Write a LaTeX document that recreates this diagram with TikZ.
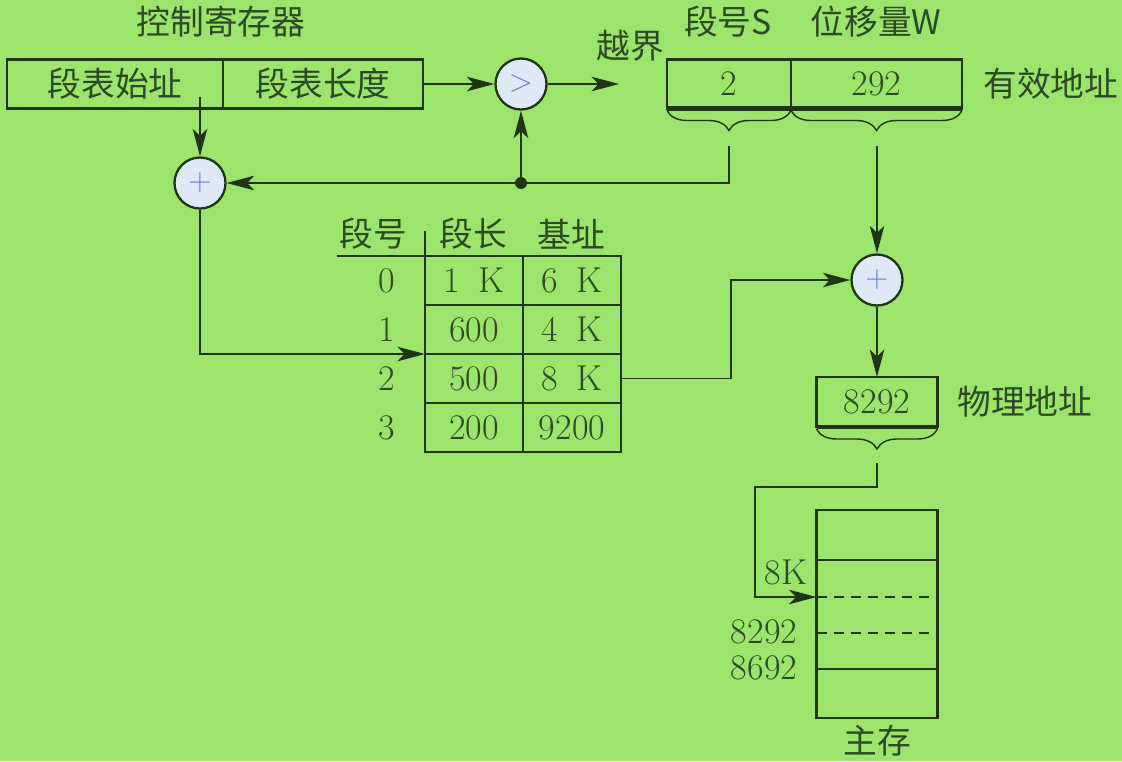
\documentclass[tikz,border=0pt]{standalone}
\usepackage{fontspec}
\usepackage{xcolor}
\usepackage{tikz}
\usetikzlibrary{arrows.meta,positioning,decorations.pathreplacing}
\newfontfamily\cjk{Noto Sans CJK SC}
\definecolor{boardgreen}{HTML}{9CE46C}
\definecolor{inkdark}{HTML}{1F3514}
\definecolor{textdark}{HTML}{2C4A24}
\definecolor{sumfill}{HTML}{DDEAF6}
\definecolor{sumblue}{HTML}{6A80C8}
\newcommand{\zh}{\cjk\fontsize{19.2}{21}\selectfont}

\begin{document}
\begin{tikzpicture}[x=0.2mm,y=-0.2mm,>={Stealth[length=5.5mm,width=2.9mm,inset=1.4mm]},font=\fontsize{20.5}{22}\selectfont]

\tikzset{
box/.style={
    draw=inkdark,
    line width=1.5pt,
    outer sep=0pt,
    inner sep=0pt,
    minimum height=9.8mm,
    text=textdark
},
sum/.style={circle,draw=inkdark,line width=1.3pt,fill=sumfill,minimum size=10.2mm,inner sep=0pt,text=sumblue},
lbl/.style={text=textdark,inner sep=0pt,font=\zh},
num/.style={text=textdark,inner sep=0pt},
a/.style={->,draw=inkdark,line width=0.9pt},
brc/.style={draw=inkdark,line width=0.8pt,decorate,decoration={brace,mirror,amplitude=4mm,raise=0.4mm}},
jdot/.style={circle,fill=inkdark,minimum size=2.4mm,inner sep=0pt},
dashline/.style={dash pattern=on 2mm off 1.4mm}
}

\fill[boardgreen] (0,0) rectangle (1122,761);

% control register
\node[lbl] (ctrltitle) at (221,22) {控制寄存器};
\node[box,minimum width=43.2mm,font=\zh] (stab) at (115,84) {段表始址};
\node[box,minimum width=40mm,font=\zh,right=0pt of stab] (slen) {段表长度};
\node[sum,font=\fontsize{18}{20}\selectfont] (cmp) at (521,84) {>};
\node[sum,font=\fontsize{18}{20}\selectfont] (add1) at (200,183) {+};
\coordinate (regout) at (200,97);
\coordinate (ovf) at (619,84);
\node[lbl] (ovflbl) at (630,46) {越界};

% effective address
\node[box,minimum width=24.8mm] (sfield) at (729,84) {2};
\node[box,minimum width=34.2mm,right=0pt of sfield] (wfield) {292};
\draw[line width=2.6pt,inkdark] (sfield.south west) -- (wfield.south east);
\node[lbl] (slbl) at (728,22) {段号S};
\node[lbl] (wlbl) at (876,22) {位移量W};
\node[lbl,anchor=west] (eaddr) at (983,84) {有效地址};
\draw[brc] (sfield.south west) -- (sfield.south east);
\draw[brc] (wfield.south west) -- (wfield.south east);
\coordinate (stip) at (729,146);
\coordinate (wtip) at (877,146);
\node[jdot] (jn) at (521,183) {};

% segment table
\node[lbl] (hno) at (373,234) {段号};
\node[lbl] (hlen) at (473,234) {段长};
\node[lbl] (hbase) at (571,234) {基址};
\foreach \len/\base [count=\i from 0] in {1\enspace K/6\enspace K,600/4\enspace K,500/8\enspace K,200/9200} {
    \node[box,minimum width=19.6mm] (len\i) at (474,{280.5+49*\i}) {\len};
    \node[box,minimum width=19.6mm,right=0pt of len\i] (base\i) {\base};
    \node[num] (idx\i) at (387,{281+49*\i}) {\i};
}
\coordinate (hline) at (337,256);
\draw[inkdark,line width=0.9pt] (hline) -- (len0.north west) -- ++(0,-25);

% physical address and memory
\node[sum,font=\fontsize{18}{20}\selectfont] (add2) at (877,280) {+};
\node[box,minimum width=24.2mm,minimum height=10mm] (phys) at (877,402) {8292};
\draw[line width=2.6pt,inkdark] (phys.south west) -- (phys.south east);
\node[lbl,anchor=west] (paddr) at (957,402) {物理地址};
\draw[brc] (phys.south west) -- (phys.south east);
\coordinate (ptip) at (877,463);
\node[box,minimum width=24.2mm,minimum height=41.6mm] (mem) at (877,614) {};
\foreach \dy/\st in {50/solid,87/dashline,123/dashline,159/solid}
    \draw[inkdark,line width=1.5pt,\st] (mem.north west) ++(0,\dy) -- ++(121,0);
\path (mem.north west) ++(0,87) coordinate (m8k);
\node[num] (l8k) at (786,572) {8K};
\node[num] (l8292) at (764,632) {8292};
\node[num] (l8692) at (764,668) {8692};
\node[lbl] (memlbl) at (877,741) {主存};

% connectors
\draw[a] (regout) -- (add1);
\draw[a] (slen) -- (cmp);
\draw[a] (cmp) -- (ovf);
\draw[a] (stip) |- (add1);
\draw[a] (jn) -- (cmp);
\draw[a] (add1) |- (len2.north west);
\draw[a] (base2.east) -- ++(110,0) |- (add2);
\draw[a] (wtip) -- (add2);
\draw[a] (add2) -- (phys);
\draw[a] (ptip) -- ++(0,24) -- ++(-122,0) |- (m8k);

\end{tikzpicture}
\end{document}
